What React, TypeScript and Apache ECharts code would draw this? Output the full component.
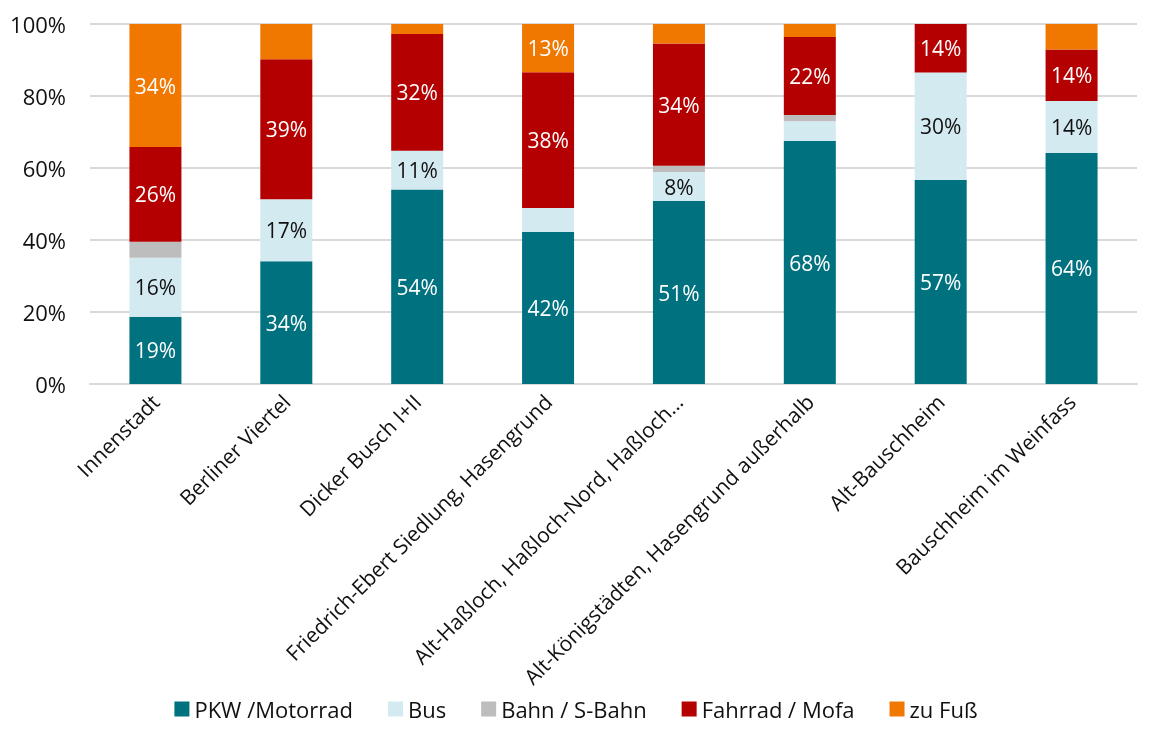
import React, { useEffect, useRef } from "react";
import * as echarts from "echarts";

const categories = [
  "Innenstadt",
  "Berliner Viertel",
  "Dicker Busch I+II",
  "Friedrich-Ebert Siedlung, Hasengrund",
  "Alt-Haßloch, Haßloch-Nord, Haßloch…",
  "Alt-Königstädten, Hasengrund außerhalb",
  "Alt-Bauschheim",
  "Bauschheim im Weinfass",
];

const seriesNames = ["PKW /Motorrad", "Bus", "Bahn / S-Bahn", "Fahrrad / Mofa", "zu Fuß"];

const pkw = [18.7, 34.1, 54.0, 42.2, 50.8, 67.5, 56.7, 64.2];
const bus = [16.4, 17.2, 10.8, 6.7, 8.1, 5.5, 29.8, 14.4];
const bahn = [4.4, 0, 0, 0, 1.7, 1.7, 0, 0];
const fahrrad = [26.3, 38.9, 32.4, 37.7, 34.0, 21.7, 13.5, 14.3];
const fuss = [34.2, 9.8, 2.8, 13.4, 5.4, 3.6, 0, 7.1];

// which data labels are shown (per series, per category)
const labelPkw = [true, true, true, true, true, true, true, true];
const labelBus = [true, true, true, false, true, false, true, true];
const labelBahn = [false, false, false, false, false, false, false, false];
const labelFahrrad = [true, true, true, true, true, true, true, true];
const labelFuss = [true, false, false, true, false, false, false, false];

const seriesValues = [pkw, bus, bahn, fahrrad, fuss];
const seriesLabels = [labelPkw, labelBus, labelBahn, labelFahrrad, labelFuss];
const colors = ["#00717F", "#D4EAF1", "#BDBDBD", "#B40000", "#F07700"];
const labelColors = ["#ffffff", "#111111", "#111111", "#ffffff", "#ffffff"];

const FONT = "'Open Sans', 'Noto Sans', sans-serif";

export default function App() {
  const ref = useRef<HTMLDivElement>(null);
  useEffect(() => {
    if (!ref.current) return;
    const chart = echarts.init(ref.current, undefined, { renderer: "svg" });
    chart.setOption({
      animation: false,
      textStyle: { fontFamily: FONT },
      grid: { left: 90, right: 15, top: 24, bottom: 345, containLabel: false },
      legend: {
        top: 698,
        left: "center",
        padding: 0,
        itemWidth: 15,
        itemHeight: 15,
        itemGap: 35,
        icon: "rect",
        textStyle: { fontSize: 22, lineHeight: 22, color: "#111", fontFamily: FONT },
        data: seriesNames,
      },
      xAxis: {
        type: "category",
        data: categories,
        axisLine: { show: true, lineStyle: { color: "#D9D9D9", width: 2 } },
        axisTick: { show: false },
        axisLabel: {
          rotate: 45,
          interval: 0,
          fontSize: 21,
          color: "#111",
          margin: 14,
          fontFamily: FONT,
        },
      },
      yAxis: {
        type: "value",
        min: 0,
        max: 100,
        interval: 20,
        axisLine: { show: false },
        axisTick: { show: false },
        splitLine: { lineStyle: { color: "#D9D9D9", width: 2 } },
        axisLabel: {
          formatter: (v: number) => v + "%",
          fontSize: 22,
          color: "#111",
          margin: 24,
          fontFamily: FONT,
        },
      },
      series: seriesNames.map((name, si) => ({
        name,
        type: "bar",
        stack: "total",
        barWidth: 52,
        itemStyle: { color: colors[si] },
        data: seriesValues[si].map((v, ci) => ({
          value: v,
          label: { show: seriesLabels[si][ci] },
        })),
        label: {
          position: "inside",
          color: labelColors[si],
          fontSize: 21,
          fontFamily: FONT,
          formatter: (p: any) => Math.round(p.value) + "%",
        },
      })),
    });
    return () => chart.dispose();
  }, []);
  return (
    <div
      ref={ref}
      style={{ position: "fixed", left: 0, top: 0, width: 1152, height: 729 }}
    />
  );
}
